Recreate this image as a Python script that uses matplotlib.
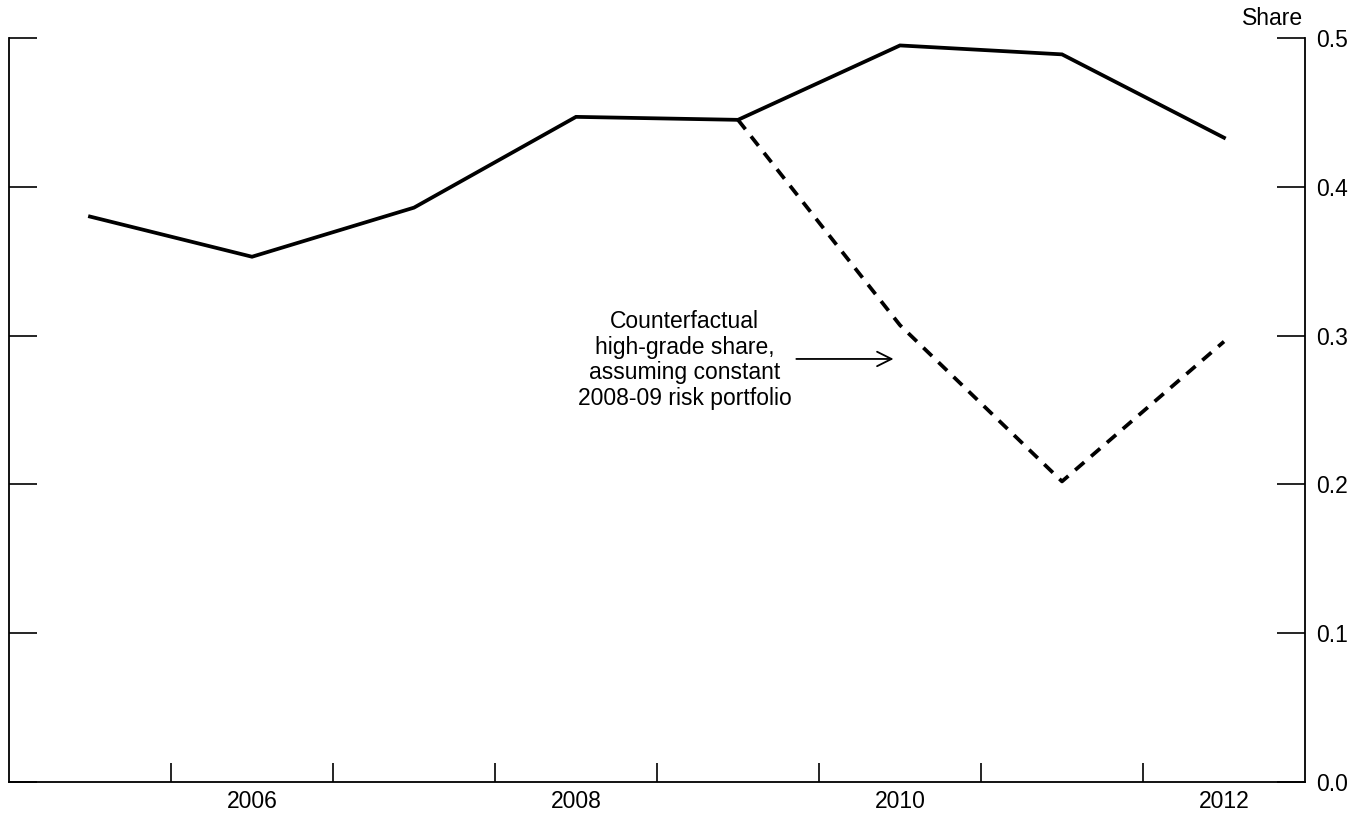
import matplotlib
matplotlib.use("Agg")
import matplotlib.pyplot as plt

# annual values, plotted at mid-year
years = [2005, 2006, 2007, 2008, 2009, 2010, 2011, 2012]
high_grade_share = [0.380, 0.353, 0.386, 0.447, 0.445, 0.495, 0.489, 0.433]

cf_years = [2009, 2010, 2011, 2012]
counterfactual_share = [0.445, 0.307, 0.202, 0.296]

label_years = [2006, 2008, 2010, 2012]
y_ticks = [0.0, 0.1, 0.2, 0.3, 0.4, 0.5]

plt.rcParams["font.family"] = ["Liberation Sans", "DejaVu Sans"]

fig = plt.figure(figsize=(13.59, 8.16), dpi=100)
ax = fig.add_axes([9 / 1359, 34 / 816, (1305 - 9) / 1359, (782 - 38) / 816])

ax.plot([y + 0.5 for y in years], high_grade_share, color="black", lw=2.7,
        solid_joinstyle="miter")
ax.plot([y + 0.5 for y in cf_years], counterfactual_share, color="black",
        lw=2.7, dashes=(3.2, 2.4))

ax.set_xlim(2005, 2013)
ax.set_ylim(0, 0.5)

# year boundaries as tick marks, labels at mid-year
ax.set_xticks(range(2006, 2013))
ax.set_xticklabels([])
ax.set_xticks([y + 0.5 for y in label_years], minor=True)
ax.set_xticklabels([str(y) for y in label_years], minor=True)
ax.tick_params(axis="x", which="major", direction="in", length=14, width=1.2)
ax.tick_params(axis="x", which="minor", length=0, pad=6, labelsize=16.5)

ax.set_yticks(y_ticks)
ax.set_yticklabels([f"{v:.1f}" for v in y_ticks])
ax.tick_params(axis="y", direction="in", length=20, width=1.2, left=True,
               right=True, labelleft=False, labelright=True, labelsize=16.5,
               pad=8)

ax.spines["top"].set_visible(False)
for s in ["left", "right", "bottom"]:
    ax.spines[s].set_linewidth(1.3)

ax.text(0.9985, 1.0175, "Share", transform=ax.transAxes, ha="right",
        va="baseline", fontsize=16.5)

ax.text(2009.17, 0.2836,
        "Counterfactual\nhigh-grade share,\nassuming constant\n2008-09 risk portfolio",
        ha="center", va="center", multialignment="center", fontsize=16.5,
        linespacing=1.15)
ax.annotate("", xy=(2010.46, 0.2843), xytext=(2009.86, 0.2843),
            arrowprops=dict(arrowstyle="->", color="black", lw=1.3,
                            mutation_scale=26, shrinkA=0, shrinkB=0))

fig.savefig("out.png", dpi=100)
